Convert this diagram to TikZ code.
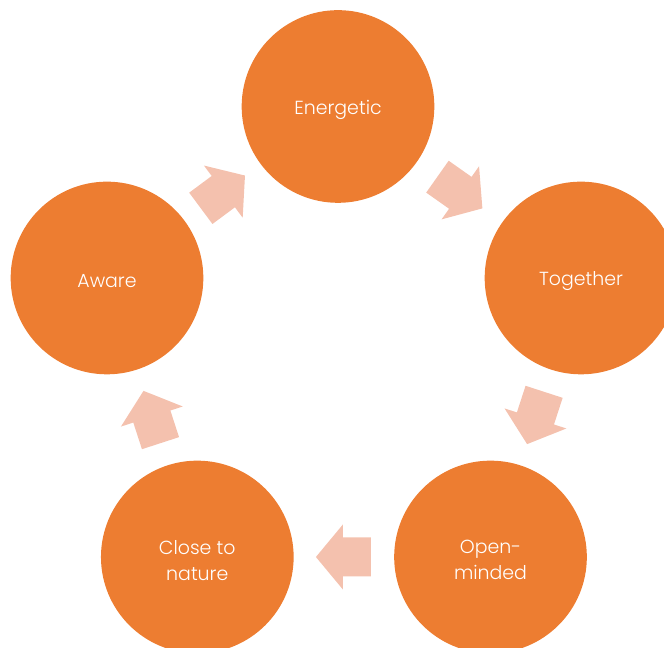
\documentclass[tikz,border=0pt]{standalone}
\usepackage{fontspec}
\setmainfont{Poppins}[UprightFont=* Light]
\usetikzlibrary{calc}
\definecolor{circorange}{RGB}{237,125,49}
\definecolor{arrowpink}{RGB}{244,193,174}
\tikzset{
	stage/.style={circle,fill=circorange,draw=none,minimum size=144.5pt,inner sep=0pt},
	stagetext/.style={text=white,align=center,yshift=-2.5pt,font=\fontsize{14.2}{19.5}\selectfont},
	flow/.style={fill=arrowpink,draw=none}
}
\newcommand{\blockarrow}{(-27,-19.5) -- (1,-19.5) -- (1,-32.5) -- (28,0) -- (1,32.5) -- (1,19.5) -- (-27,19.5) -- cycle}
\begin{document}
\begin{tikzpicture}[x=0.75pt,y=0.75pt]
		\clip (0,0) rectangle (664,648);
		\node[stage,label={[stagetext]center:Energetic}] (ener) at (338,541.5) {};
		\node[stage,label={[stagetext]center:Together}] (tog) at (581,370) {};
		\node[stage,label={[stagetext]center:Open-\\minded}] (open) at (490.5,91) {};
		\node[stage,label={[stagetext]center:Close to\\nature}] (close) at (197.3,91) {};
		\node[stage,label={[stagetext]center:Aware}] (aware) at (107,370) {};
		% block arrows between the stages
		\fill[flow,shift={($(ener)!0.5!(tog)$)},rotate=-35.2] \blockarrow;
		\fill[flow,shift={($(tog)!0.5!(open)$)},rotate=-108] \blockarrow;
		\fill[flow,shift={($(open)!0.5!(close)$)},rotate=180] \blockarrow;
		\fill[flow,shift={($(close)!0.5!(aware)$)},rotate=108] \blockarrow;
		\fill[flow,shift={($(aware)!0.5!(ener)$)},rotate=36.6] \blockarrow;
	\end{tikzpicture}
\end{document}
